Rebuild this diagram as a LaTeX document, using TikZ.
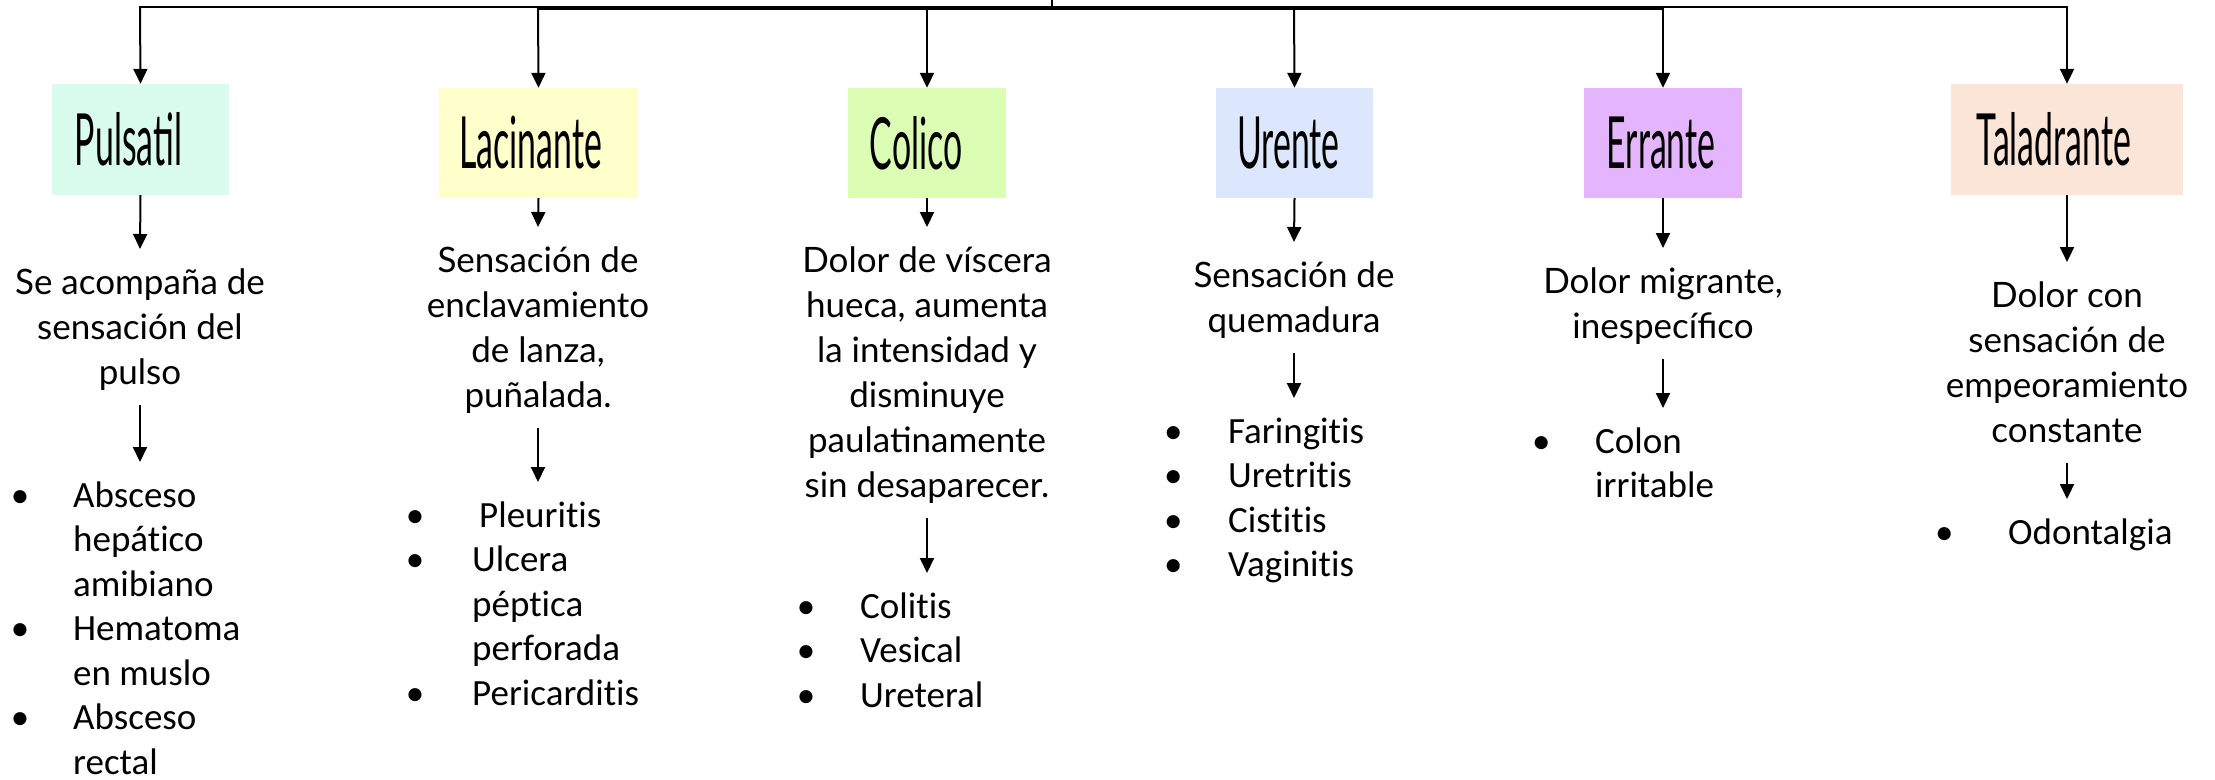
\documentclass[tikz,border=0pt]{standalone}
\usepackage{fontspec}
\usepackage{graphicx}
\setmainfont{Lato}
\newfontfamily\titlefont{Lato}
\newfontfamily\listfont{Carlito}[Ligatures=NoCommon]
\usetikzlibrary{arrows.meta}
\definecolor{cPul}{HTML}{D9FCEF}
\definecolor{cLac}{HTML}{FFFFCC}
\definecolor{cCol}{HTML}{DCFDB4}
\definecolor{cUre}{HTML}{DCE6FC}
\definecolor{cErr}{HTML}{E4B4FC}
\definecolor{cTal}{HTML}{FAE5D6}
\newcommand\ttl[2]{\scalebox{0.47}[1]{\titlefont\fontsize{72}{72}\selectfont #1}\hspace*{#2pt}}
\newcommand\itm[2]{\makebox[20pt][c]{\textbullet}\hspace*{#1pt}#2}
\newcommand\cnt[2]{\hspace*{20pt}\hspace*{#1pt}#2}
\newcommand\topstrut{\rule{0pt}{45pt}}
\newcommand\botstrut{\rule[-21pt]{0pt}{21pt}}
\begin{document}
\begin{tikzpicture}[x=1pt,y=-1pt,
  conn/.style={line width=2pt,-{Triangle[width=14pt,length=15pt]}},
  bar/.style={line width=2.6pt,line cap=rect},
  box/.style={inner sep=0pt,anchor=center,minimum height=110pt},
  desc/.style={anchor=north,align=center,inner sep=0pt,font=\fontsize{35}{45}\selectfont},
  lst/.style={anchor=north west,align=left,inner sep=0pt,font=\listfont\fontsize{37}{44.5}\selectfont}]
\useasboundingbox (0,0) rectangle (2215,779);

% top bar
\coordinate (stubtop) at (1052,0);
\coordinate (stub) at (1052,8);
\coordinate (t1) at (140,7);
\coordinate (t2) at (538,7);
\coordinate (t3) at (927,7);
\coordinate (t4) at (1294,7);
\coordinate (t5) at (1663,7);
\coordinate (t6) at (2067,7);
\draw[bar] (t1) -- (t6);
\draw[line width=4pt] (538,8) -- (1663,8);
\draw[bar] (stubtop) -- (stub);

% category boxes
\node[box,fill=cPul,minimum width=177pt,minimum height=111pt] (pul) at (140.5,139.5) {\ttl{Pulsatil}{24}};
\node[box,fill=cLac,minimum width=199pt] (lac) at (538.5,143) {\ttl{Lacinante}{16}};
\node[box,fill=cCol,minimum width=158pt] (col) at (927,143) {\ttl{Colico}{22}};
\node[box,fill=cUre,minimum width=157pt] (ure) at (1294.5,143) {\ttl{Urente}{12}};
\node[box,fill=cErr,minimum width=158pt] (err) at (1663,143) {\ttl{Errante}{4}};
\node[box,fill=cTal,minimum width=232pt,minimum height=111pt] (tal) at (2067,139.5) {\ttl{Taladrante}{26}};

\foreach \t/\b in {t1/pul,t2/lac,t3/col,t4/ure,t5/err,t6/tal}
  \draw[conn] (\t) -- (\b.north);

% descriptions
\node[desc] (d1) at (140,249) {\topstrut Se acompaña de\\sensación del\\pulso\botstrut};
\node[desc] (d2) at (538,227) {\topstrut Sensación de\\enclavamiento\\de lanza,\\puñalada.\botstrut};
\node[desc] (d3) at (927,227) {\topstrut Dolor de víscera\\hueca, aumenta\\la intensidad y\\disminuye\\paulatinamente\\sin desaparecer.\botstrut};
\node[desc] (d4) at (1294,242) {\topstrut Sensación de\\quemadura\botstrut};
\node[desc] (d5) at (1663,248) {\topstrut Dolor migrante,\\inespecífico\botstrut};
\node[desc] (d6) at (2067,262) {\topstrut Dolor con\\sensación de\\empeoramiento\\constante\botstrut};

\foreach \b/\d in {pul/d1,lac/d2,col/d3,ure/d4,err/d5,tal/d6}
  \draw[conn] (\b.south) -- (\d.north);

% lists
\node[lst] (l1) at (10,462) {\topstrut\itm{43}{Absceso}\\\cnt{43}{hepático}\\\cnt{43}{amibiano}\\\itm{43}{Hematoma}\\\cnt{43}{en muslo}\\\itm{43}{Absceso}\\\cnt{43}{rectal}};
\node[lst] (l2) at (405,482) {\topstrut\itm{54}{Pleuritis}\\\itm{47}{Ulcera}\\\cnt{47}{péptica}\\\cnt{47}{perforada}\\\itm{47}{Pericarditis}};
\node[lst] (l3) at (796,573) {\topstrut\itm{44}{Colitis}\\\itm{44}{Vesical}\\\itm{44}{Ureteral}};
\node[lst] (l4) at (1163,398) {\topstrut\itm{45}{Faringitis}\\\itm{45}{Uretritis}\\\itm{45}{Cistitis}\\\itm{45}{Vaginitis}};
\node[lst] (l5) at (1531,408) {\topstrut\itm{44}{Colon}\\\cnt{44}{irritable}};
\node[lst] (l6) at (1934,499) {\topstrut\itm{54}{Odontalgia}};

\foreach \d/\l in {d1/l1,d2/l2,d3/l3,d4/l4,d5/l5,d6/l6}
  \draw[conn] (\d.south) -- (\d.south |- \l.north);
\end{tikzpicture}
\end{document}
